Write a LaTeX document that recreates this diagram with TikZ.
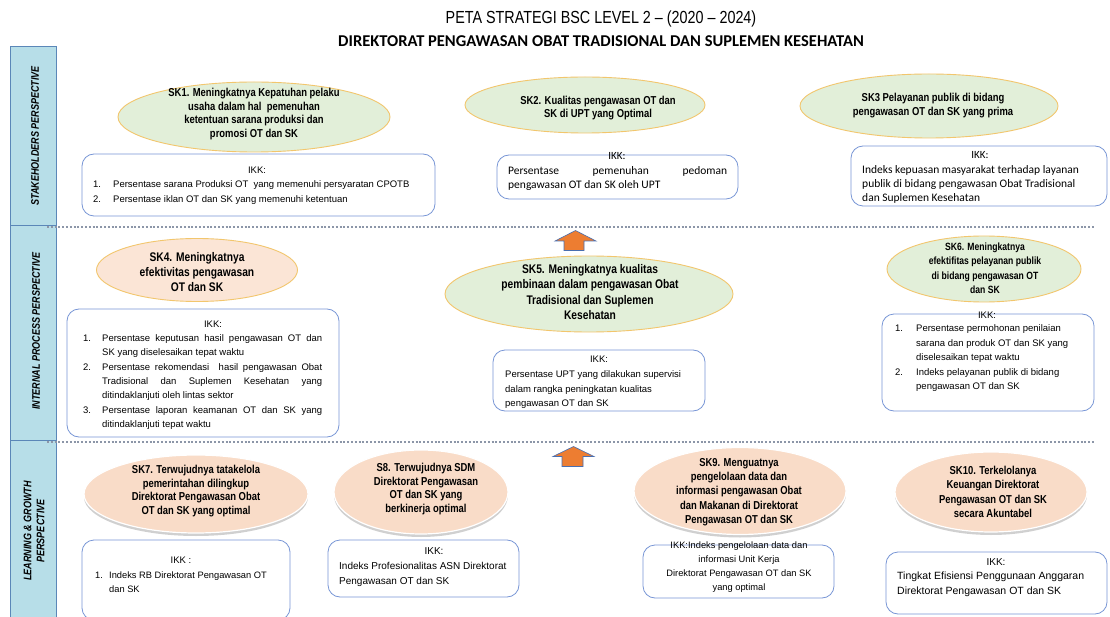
\documentclass[tikz,border=0pt]{standalone}
\usepackage{fontspec}
\setmainfont{Liberation Sans}
\newfontfamily\narrowfont[FakeStretch=0.82]{Liberation Sans}
\newfontfamily\calfont{Carlito}
\usetikzlibrary{shapes.geometric,shadows}
\definecolor{greenfill}{HTML}{E2EFD9}
\definecolor{orangefill}{HTML}{FBE5D6}
\definecolor{peachfill}{HTML}{F9DCC8}
\definecolor{goldline}{HTML}{F2C66D}
\definecolor{boxline}{HTML}{7896D6}
\definecolor{colfill}{HTML}{B7DEE8}
\definecolor{colline}{HTML}{5B87B8}
\definecolor{dotcol}{HTML}{8C96A8}
\definecolor{arrowfill}{HTML}{ED7D31}
\definecolor{arrowline}{HTML}{4A6FB0}
\newcommand{\jl}[2]{\makebox[#1][s]{#2}}
\newcommand{\nm}[2]{\makebox[#1][l]{#2}}
\begin{document}
\begin{tikzpicture}[x=1pt,y=-1pt,
  ellg/.style={ellipse, draw=goldline, line width=0.9pt, fill=greenfill, inner sep=0pt},
  ello/.style={ellipse, draw=goldline, line width=0.9pt, fill=orangefill, inner sep=0pt},
  ellp/.style={ellipse, draw=white, line width=1.2pt, fill=peachfill, inner sep=0pt,
    drop shadow={shadow xshift=0pt, shadow yshift=-3pt, opacity=0.3, fill=black!60}},
  sktext/.style={inner sep=0pt, align=center, font=\narrowfont\bfseries\fontsize{11.5}{13.8}\selectfont},
  ikkbox/.style={draw=boxline, line width=0.8pt, rounded corners=12pt, fill=white, inner sep=0pt},
  ikklab/.style={inner sep=0pt, font=\fontsize{9.5}{12}\selectfont},
  txt/.style={inner sep=0pt, align=left, font=\fontsize{9.5}{14.5}\selectfont},
  caltxt/.style={inner sep=0pt, align=left, font=\calfont\fontsize{11.5}{14}\selectfont},
  colbox/.style={draw=colline, line width=1pt, fill=colfill, inner sep=0pt, minimum width=46pt},
  collab/.style={inner sep=0pt, rotate=90, align=center, font=\narrowfont\bfseries\itshape\fontsize{11}{13}\selectfont},
  dotline/.style={draw=dotcol, line width=2.2pt, dash pattern=on 2pt off 1.8pt},
  blockarrow/.style={fill=arrowfill, draw=arrowline, line width=0.6pt}
]
\useasboundingbox (0,0) rectangle (1110,617);
\fill[white] (0,0) rectangle (1110,617);

% titles
\node[inner sep=0pt, font=\narrowfont\fontsize{17.5}{20}\selectfont] (t1) at (601,19) {PETA STRATEGI BSC LEVEL 2 – (2020 – 2024)};
\node[inner sep=0pt, font=\calfont\bfseries\fontsize{16.5}{20}\selectfont] (t2) at (601,41) {DIREKTORAT PENGAWASAN OBAT TRADISIONAL DAN SUPLEMEN KESEHATAN};

% left column
\node[colbox, minimum height=179pt] (col1) at (33,136.5) {};
\node[colbox, minimum height=214pt] (col2) at (33,333) {};
\node[colbox, minimum height=185pt] (col3) at (33,532.5) {};
\node[collab] (c1t) at (35,136) {STAKEHOLDERS PERSPECTIVE};
\node[collab] (c2t) at (36,331) {INTERNAL PROCESS PERSPECTIVE};
\node[collab] (c3t) at (34,531) {LEARNING \& GROWTH\\PERSPECTIVE};

% dotted separators
\coordinate (d1s) at (47,227); \coordinate (d1e) at (1095,227);
\coordinate (d2s) at (47,442); \coordinate (d2e) at (1095,442);
\draw[dotline] (d1s) -- (d1e);
\draw[dotline] (d2s) -- (d2e);

% block arrows
\draw[blockarrow] (575.5,230.5) -- (596,241) -- (584,241) -- (584,250.5) -- (564,250.5) -- (564,241) -- (555,241) -- cycle;
\draw[blockarrow] (573.5,446.5) -- (594,456.5) -- (583,456.5) -- (583,466.5) -- (562,466.5) -- (562,456.5) -- (553,456.5) -- cycle;

% ---------- stakeholder row ----------
\node[ellg, minimum width=272pt, minimum height=70pt] (sk1) at (254,117) {};
\node[sktext] (sk1t) at (254,114) {SK1. Meningkatnya Kepatuhan pelaku\\usaha dalam hal\ \ pemenuhan\\ketentuan sarana produksi dan\\promosi OT dan SK};
\node[ellg, minimum width=240pt, minimum height=56pt] (sk2) at (585,105) {};
\node[sktext] (sk2t) at (598,108) {SK2. Kualitas pengawasan OT dan\\SK di UPT yang Optimal};
\node[ellg, minimum width=258pt, minimum height=64pt] (sk3) at (929,106) {};
\node[sktext] (sk3t) at (933,105.5) {SK3 Pelayanan publik di bidang\\pengawasan OT dan SK yang prima};

\node[ikkbox, minimum width=353pt, minimum height=62pt] (b1) at (258.5,185) {};
\node[ikklab] (b1k) at (257,170) {IKK:};
\node[txt, anchor=north west, font=\fontsize{9.5}{15}\selectfont] (b1t) at (93,180.5) {\nm{20pt}{1.}Persentase sarana Produksi OT\ \ yang memenuhi persyaratan CPOTB\\\nm{20pt}{2.}Persentase iklan OT dan SK yang memenuhi ketentuan};

\node[ikkbox, minimum width=241pt, minimum height=44pt] (b2) at (617.5,177) {};
\node[ikklab, font=\calfont\fontsize{11}{12}\selectfont] (b2k) at (617,156) {IKK:};
\node[caltxt, anchor=north west] (b2t) at (508,166) {\jl{219pt}{Persentase pemenuhan pedoman}\\pengawasan OT dan SK oleh UPT};

\node[ikkbox, minimum width=256pt, minimum height=60pt] (b3) at (979,176) {};
\node[ikklab, font=\calfont\fontsize{11}{12}\selectfont] (b3k) at (980,155) {IKK:};
\node[caltxt, anchor=north west] (b3t) at (862,165) {Indeks kepuasan masyarakat terhadap layanan\\publik di bidang pengawasan Obat Tradisional\\dan Suplemen Kesehatan};

% ---------- internal process row ----------
\node[ello, minimum width=201pt, minimum height=63pt] (sk4) at (197,270) {};
\node[sktext, font=\narrowfont\bfseries\fontsize{12.5}{15}\selectfont] (sk4t) at (197,272) {SK4. Meningkatnya\\efektivitas pengawasan\\OT dan SK};
\node[ellg, minimum width=288pt, minimum height=76pt] (sk5) at (589,294) {};
\node[sktext, font=\narrowfont\bfseries\fontsize{12.5}{15.5}\selectfont] (sk5t) at (590,292) {SK5. Meningkatnya kualitas\\pembinaan dalam pengawasan Obat\\Tradisional dan Suplemen\\Kesehatan};
\node[ellg, minimum width=194pt, minimum height=66pt] (sk6) at (984,269) {};
\node[sktext, font=\narrowfont\bfseries\fontsize{10.5}{14.5}\selectfont] (sk6t) at (985,268) {SK6. Meningkatnya\\efektifitas pelayanan publik\\di bidang pengawasan OT\\dan SK};

\node[ikkbox, minimum width=272pt, minimum height=128pt] (b4) at (203,373) {};
\node[ikklab] (b4k) at (213,324) {IKK:};
\node[txt, anchor=north west, font=\fontsize{9.5}{14.3}\selectfont] (b4t) at (83,334.5) {\nm{19pt}{1.}\jl{220pt}{Persentase keputusan hasil pengawasan OT dan}\\\nm{19pt}{}SK yang diselesaikan tepat waktu\\\nm{19pt}{2.}\jl{220pt}{Persentase rekomendasi\ \ hasil pengawasan Obat}\\\nm{19pt}{}\jl{220pt}{Tradisional dan Suplemen Kesehatan yang}\\\nm{19pt}{}ditindaklanjuti oleh lintas sektor\\\nm{19pt}{3.}\jl{220pt}{Persentase laporan keamanan OT dan SK yang}\\\nm{19pt}{}ditindaklanjuti tepat waktu};

\node[ikkbox, minimum width=212pt, minimum height=61pt] (b5) at (599,380.5) {};
\node[ikklab] (b5k) at (599,359) {IKK:};
\node[txt, anchor=north west] (b5t) at (505,370.5) {Persentase UPT yang dilakukan supervisi\\dalam rangka peningkatan kualitas\\pengawasan OT dan SK};

\node[ikkbox, minimum width=212pt, minimum height=97pt] (b6) at (988,362.5) {};
\node[ikklab] (b6k) at (987,315) {IKK:};
\node[txt, anchor=north west] (b6t) at (895,324.5) {\nm{21pt}{1.}Persentase permohonan penilaian\\\nm{21pt}{}sarana dan produk OT dan SK yang\\\nm{21pt}{}diselesaikan tepat waktu\\\nm{21pt}{2.}Indeks pelayanan publik di bidang\\\nm{21pt}{}pengawasan OT dan SK};

% ---------- learning & growth row ----------
\node[ellp, minimum width=224pt, minimum height=78pt] (sk7) at (196,494) {};
\node[sktext] (sk7t) at (196,491) {SK7. Terwujudnya tatakelola\\pemerintahan dilingkup\\Direktorat Pengawasan Obat\\OT dan SK yang optimal};
\node[ellp, minimum width=174pt, minimum height=84pt] (sk8) at (421,492) {};
\node[sktext] (sk8t) at (426,489) {S8. Terwujudnya SDM\\Direktorat Pengawasan\\OT dan SK yang\\berkinerja optimal};
\node[ellp, minimum width=212pt, minimum height=87pt] (sk9) at (740,491) {};
\node[sktext, font=\narrowfont\bfseries\fontsize{11.5}{14.3}\selectfont] (sk9t) at (739,492) {SK9. Menguatnya\\pengelolaan data dan\\informasi pengawasan Obat\\dan Makanan di Direktorat\\Pengawasan OT dan SK};
\node[ellp, minimum width=192pt, minimum height=80pt] (sk10) at (991,492) {};
\node[sktext, font=\narrowfont\bfseries\fontsize{11.5}{14.5}\selectfont] (sk10t) at (993,492) {SK10. Terkelolanya\\Keuangan Direktorat\\Pengawasan OT dan SK\\secara Akuntabel};

\node[ikkbox, minimum width=208pt, minimum height=80pt] (b7) at (186,580) {};
\node[ikklab] (b7k) at (181,560) {IKK :};
\node[txt, anchor=north west, font=\fontsize{9.3}{14}\selectfont] (b7t) at (95,571.5) {\nm{14pt}{1.}Indeks RB Direktorat Pengawasan OT\\\nm{14pt}{}dan SK};

\node[ikkbox, minimum width=191pt, minimum height=57pt] (b8) at (423.5,568.5) {};
\node[ikklab, font=\fontsize{10}{12}\selectfont] (b8k) at (434,551) {IKK:};
\node[txt, anchor=north west, font=\fontsize{10}{15}\selectfont] (b8t) at (339,562) {Indeks Profesionalitas ASN Direktorat\\Pengawasan OT dan SK};

\node[ikkbox, minimum width=191pt, minimum height=53pt] (b9) at (738.5,571.5) {};
\node[txt, anchor=north, align=center, font=\fontsize{9.3}{14}\selectfont] (b9t) at (739,541.5) {IKK:Indeks pengelolaan data dan\\informasi Unit Kerja\\Direktorat Pengawasan OT dan SK\\yang optimal};

\node[ikkbox, minimum width=221pt, minimum height=62pt] (b10) at (996.5,583) {};
\node[ikklab, font=\fontsize{10}{12}\selectfont] (b10k) at (996,562) {IKK:};
\node[txt, anchor=north west, font=\fontsize{10.5}{14.5}\selectfont] (b10t) at (897,572) {Tingkat Efisiensi Penggunaan Anggaran\\Direktorat Pengawasan OT dan SK};
\end{tikzpicture}
\end{document}
